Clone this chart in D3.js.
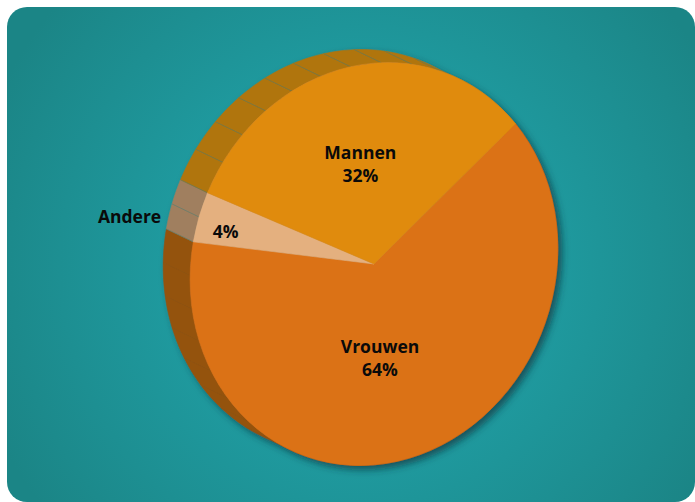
<!DOCTYPE html>
<html>
<head>
<meta charset="utf-8">
<script src="https://cdn.jsdelivr.net/npm/d3@7"></script>
<style>
  html, body { margin: 0; padding: 0; background: #ffffff; }
  svg { display: block; }
</style>
</head>
<body>
<svg id="chart" width="695" height="502"></svg>
<script>
// Slices in drawing order (clockwise from the start angle)
const categories = ["Vrouwen", "Andere", "Mannen"];
const values = [64, 4, 32];
const valueLabels = ["64%", "4%", "32%"];

// Colours of the top face and of the extruded rim
const faceColors = ["#DB7216", "#E4B07F", "#E08B11"];
const sideColors = ["#94530A", "#A07F5F", "#B07410"];
const facetLineOpacity = [0, 0.55, 0.55];

const svg = d3.select("#chart");

// ---- geometry of the tilted disc ----
const cx = 374, cy = 264;        // centre of the top face
const rA = 204, rB = 181;        // semi-axes of the projected face
const tilt = 20 * Math.PI / 180; // rotation of the projected face
const depth = [-27, -13];        // offset of the hidden bottom face
const startAngle = 28 * Math.PI / 180;

// unit-circle angle (d3 convention) -> screen point on the face
function proj(angle, r = 1, off = [0, 0]) {
  const X = r * Math.sin(angle), Y = -r * Math.cos(angle);
  return [
    cx + rB * X * Math.cos(tilt) - rA * Y * Math.sin(tilt) + off[0],
    cy + rB * X * Math.sin(tilt) + rA * Y * Math.cos(tilt) + off[1]
  ];
}

// ---- background panel ----
const defs = svg.append("defs");
const bg = defs.append("radialGradient")
  .attr("id", "bgGrad").attr("gradientUnits", "userSpaceOnUse")
  .attr("cx", 360).attr("cy", 265).attr("r", 400);
[[0, "#22A2A7"], [0.45, "#1F9BA0"], [0.75, "#1D8F92"], [1, "#1B8586"]]
  .forEach(([o, c]) => bg.append("stop").attr("offset", o).attr("stop-color", c));

const shadow = defs.append("filter").attr("id", "pieShadow")
  .attr("x", "-20%").attr("y", "-20%").attr("width", "140%").attr("height", "140%");
shadow.append("feDropShadow")
  .attr("dx", 4).attr("dy", 4).attr("stdDeviation", 3.5)
  .attr("flood-color", "#07303a").attr("flood-opacity", 0.65);

svg.append("rect")
  .attr("x", 7).attr("y", 7).attr("width", 688).attr("height", 495)
  .attr("rx", 20).attr("ry", 20)
  .attr("fill", "url(#bgGrad)");

// ---- pie layout ----
const pie = d3.pie().sort(null).value(d => d.value)
  .startAngle(startAngle).endAngle(startAngle + 2 * Math.PI);
const data = categories.map((c, i) => ({
  name: c, value: values[i], label: valueLabels[i],
  face: faceColors[i], side: sideColors[i], line: facetLineOpacity[i]
}));
const arcs = pie(data);

const g = svg.append("g").attr("filter", "url(#pieShadow)");

// ---- rim: each slice split into facets ----
const rim = g.append("g");
arcs.forEach(a => {
  const span = a.endAngle - a.startAngle;
  const n = Math.max(1, Math.ceil(span / (10 * Math.PI / 180)));
  const step = span / n;
  for (let k = 0; k < n; k++) {
    const a0 = a.startAngle + k * step, a1 = a0 + step;
    const front = d3.range(0, 9).map(j => proj(a0 + (a1 - a0) * j / 8));
    const back = front.map((p, j) => proj(a0 + (a1 - a0) * j / 8, 1, depth)).reverse();
    rim.append("path")
      .attr("d", d3.line()(front.concat(back)) + "Z")
      .attr("fill", a.data.side)
      .attr("stroke", a.data.side).attr("stroke-width", 0.6);
    // thin seam between facets
    const s0 = proj(a0), s1 = proj(a0, 1, depth);
    rim.append("line")
      .attr("x1", s0[0]).attr("y1", s0[1]).attr("x2", s1[0]).attr("y2", s1[1])
      .attr("stroke", "#3d7f78").attr("stroke-width", 0.8)
      .attr("stroke-opacity", a.data.line);
  }
});

// ---- top face ----
const arc = d3.arc().innerRadius(0).outerRadius(1);
const face = g.append("g")
  .attr("transform", `translate(${cx},${cy}) rotate(${tilt * 180 / Math.PI}) scale(${rB},${rA})`);
face.selectAll("path").data(arcs).join("path")
  .attr("d", arc)
  .attr("fill", d => d.data.face)
  .attr("stroke", d => d.data.face)
  .attr("stroke-width", 0.6)
  .attr("vector-effect", "non-scaling-stroke");

// ---- labels ----
const font = "'Open Sans', 'Noto Sans', sans-serif";
const mid = d => (d.startAngle + d.endAngle) / 2;
const labelPos = {
  Vrouwen: { r: 0.5, dx: -17, dy: 0 },
  Mannen: { r: 0.5, dx: -2, dy: 0 },
  Andere: { r: 0.86, dx: 2, dy: 4 }
};
const labels = svg.append("g")
  .attr("font-family", font).attr("font-weight", 700)
  .attr("font-size", 17.5).attr("fill", "#0a0a0a").attr("text-anchor", "middle");

arcs.forEach(d => {
  const lp = labelPos[d.data.name];
  const [x, y] = proj(mid(d), lp.r);
  if (d.data.name === "Andere") {
    labels.append("text").attr("x", x + lp.dx).attr("y", y + 10 + lp.dy).text(d.data.label);
    const [ox, oy] = proj(mid(d), 1.42);
    labels.append("text").attr("x", ox + 4).attr("y", oy + 26).text(d.data.name);
  } else {
    labels.append("text").attr("x", x + lp.dx).attr("y", y + lp.dy - 6).text(d.data.name);
    labels.append("text").attr("x", x + lp.dx).attr("y", y + lp.dy + 17).text(d.data.label);
  }
});
</script>
</body>
</html>
